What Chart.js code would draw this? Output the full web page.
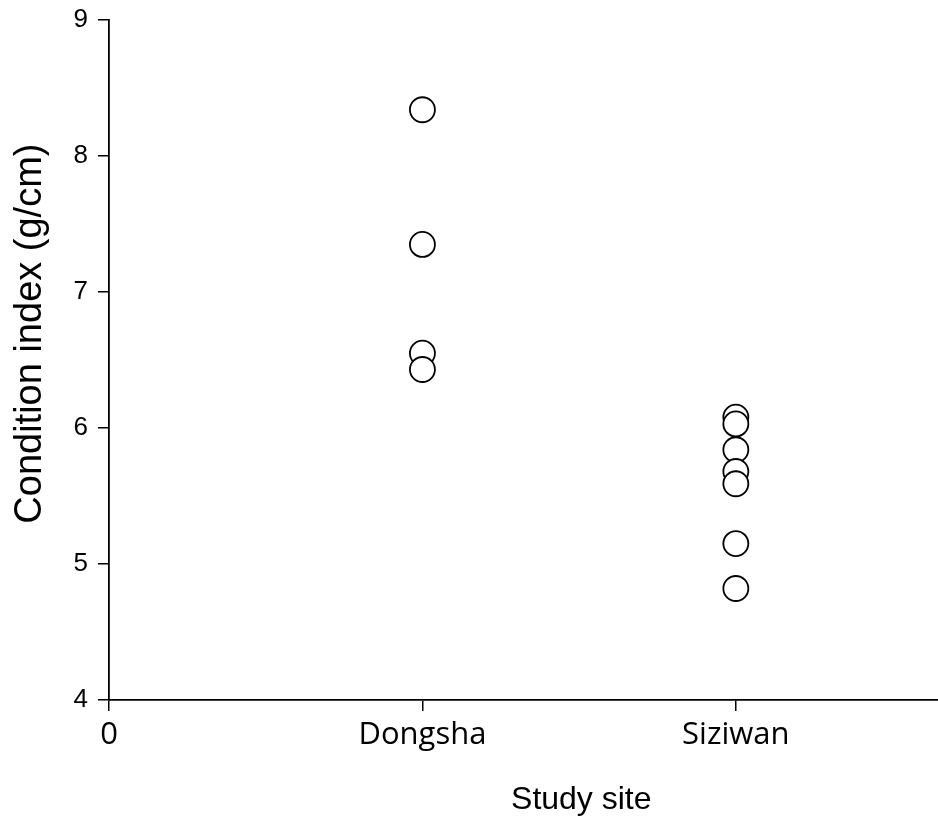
<!DOCTYPE html>
<html>
<head>
<meta charset="utf-8">
<script src="https://cdn.jsdelivr.net/npm/chart.js@4/dist/chart.umd.min.js"></script>
<style>
  html, body { margin: 0; padding: 0; background: #fff; overflow: hidden; }
  #ciChart { display: block; }
</style>
</head>
<body>
<canvas id="ciChart" width="938" height="816"></canvas>
<script>
// Condition index per study site
const siteLabels = ['0', 'Dongsha', 'Siziwan'];
const siteTicks = [0, 1, 2];
const dongshaValues = [8.34, 7.35, 6.55, 6.43];
const siziwanValues = [6.08, 6.03, 5.84, 5.68, 5.59, 5.15, 4.82];
const yTicks = [4, 5, 6, 7, 8, 9];

const points = [
  ...dongshaValues.map(v => ({ x: 1, y: v })),
  ...siziwanValues.map(v => ({ x: 2, y: v }))
];

const ctx = document.getElementById('ciChart').getContext('2d');

new Chart(ctx, {
  type: 'scatter',
  data: {
    datasets: [{
      label: 'Condition index',
      data: points,
      pointStyle: 'circle',
      pointRadius: 12.5,
      pointHoverRadius: 12.5,
      pointBackgroundColor: '#ffffff',
      pointBorderColor: '#000000',
      pointBorderWidth: 1.8
    }]
  },
  options: {
    responsive: false,
    animation: false,
    layout: {
      // x axis runs to the right edge in the source figure
      autoPadding: false,
      padding: { top: 20, right: 0, bottom: 0, left: 0 }
    },
    plugins: {
      legend: { display: false },
      tooltip: { enabled: false }
    },
    scales: {
      x: {
        type: 'linear',
        min: 0,
        max: 2.645,
        afterBuildTicks: scale => {
          scale.ticks = siteTicks.map(v => ({ value: v }));
        },
        afterFit: scale => {
          scale.height = 116;
          scale.paddingLeft = 0;
          scale.paddingRight = 0;
        },
        ticks: {
          color: '#000',
          padding: 6,
          maxRotation: 0,
          font: { family: '"Open Sans", "Noto Sans", sans-serif', size: 31 },
          callback: value => siteLabels[siteTicks.indexOf(value)] ?? ''
        },
        grid: {
          drawOnChartArea: false,
          drawTicks: true,
          tickLength: 11,
          color: '#000',
          lineWidth: 1.5
        },
        border: { display: true, color: '#000', width: 1.8 },
        title: {
          display: true,
          text: '             Study site',
          color: '#000',
          padding: { top: 0, bottom: -3 },
          font: { family: '"Liberation Sans", Arial, sans-serif', size: 32 }
        }
      },
      y: {
        min: 4,
        max: 9,
        afterBuildTicks: scale => {
          scale.ticks = yTicks.map(v => ({ value: v }));
        },
        afterFit: scale => {
          scale.width = 109;
          scale.paddingTop = 0;
          scale.paddingBottom = 0;
        },
        ticks: {
          color: '#000',
          padding: 10,
          font: { family: '"Liberation Sans", Arial, sans-serif', size: 26 }
        },
        grid: {
          drawOnChartArea: false,
          drawTicks: true,
          tickLength: 11,
          color: '#000',
          lineWidth: 1.5
        },
        border: { display: true, color: '#000', width: 1.8 },
        title: {
          display: true,
          text: '     Condition index (g/cm)',
          color: '#000',
          padding: { top: 8, bottom: 0 },
          font: { family: '"Liberation Sans", Arial, sans-serif', size: 38 }
        }
      }
    }
  }
});
</script>
</body>
</html>
